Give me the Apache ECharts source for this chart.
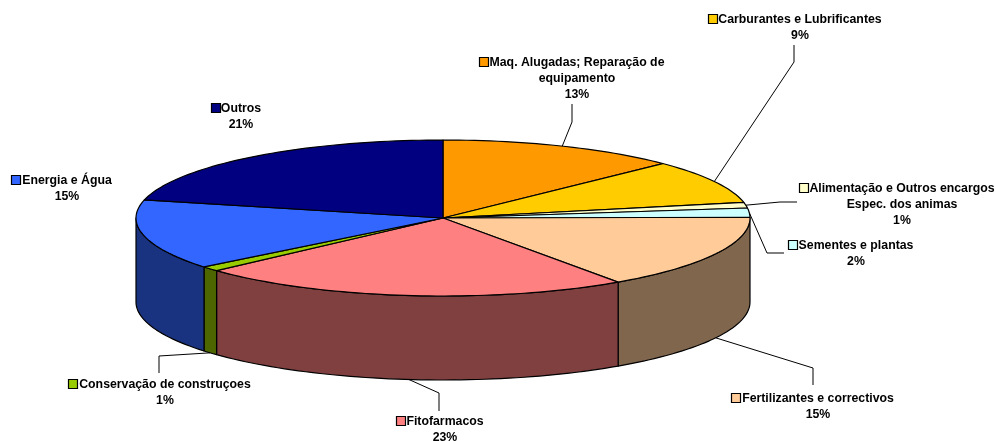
<!DOCTYPE html>
<html>
<head>
<meta charset="utf-8">
<title>Encargos</title>
<style>
    html, body { margin: 0; padding: 0; background: #fff; }
    #pie3d { width: 996px; height: 441px; }
</style>
<script src="https://cdn.jsdelivr.net/npm/echarts@6/dist/echarts.min.js"></script>
</head>
<body>
<div id="pie3d"></div>
<script>
// slices, clockwise from 12 o'clock
var names = [
    'Maq. Alugadas; Reparação de\nequipamento',
    'Carburantes e Lubrificantes',
    'Alimentação e Outros encargos\nEspec. dos animas',
    'Sementes e plantas',
    'Fertilizantes e correctivos',
    'Fitofarmacos',
    'Conservação de construçoes',
    'Energia e Água',
    'Outros'
];
var values = [12.7, 9.1, 1.15, 1.9, 15.49, 22.86, 1.0, 14.52, 21.28];
var colors = ['#FF9900', '#FFCC00', '#FFFFCC', '#CCFFFF', '#FFCC99', '#FF8080', '#99CC00', '#3366FF', '#000080'];
var wallColors = ['#804D00', '#806600', '#808066', '#668080', '#80664D', '#804040', '#4D6600', '#1A3380', '#000040'];

// label block: centre x, y of first line, x of the colour key
var labelPos = [
    [577, 63, 479],
    [800, 20, 708],
    [902, 189, 799],
    [856, 246, 788],
    [818, 399, 731],
    [445, 422, 396],
    [165, 385, 68],
    [67, 181, 11],
    [241, 109, 211]
];
// leader line points after the anchor on the pie, null = no leader
var leaderPos = [
    [[572, 122], [572, 104]],
    [[794, 62], [794, 45]],
    [[780, 202], [797, 202]],
    [[767, 253], [784, 253]],
    [[813, 368], [813, 385]],
    [[439, 393], [439, 411]],
    [[159, 356], [159, 373]],
    null,
    null
];

var cx = 443, cy = 218, rx = 307, ry = 78, depth = 84;
var lineH = 16;
var labelFont = 'bold 12.3px "Liberation Sans", Arial, sans-serif';

var total = values.reduce(function (a, b) { return a + b; }, 0);
var starts = [];
values.reduce(function (acc, v, i) {
    starts[i] = acc;
    return acc + v;
}, 0);

function angleOf(v) {
    return v / total * 360;
}
// point on the rim, angle in degrees clockwise from the top
function rim(deg, dy) {
    var r = deg * Math.PI / 180;
    return [cx + rx * Math.sin(r), cy - ry * Math.cos(r) + (dy || 0)];
}
function arc(a0, a1, dy) {
    var pts = [];
    var n = Math.max(2, Math.ceil((a1 - a0) / 1.5));
    for (var i = 0; i <= n; i++) {
        pts.push(rim(a0 + (a1 - a0) * i / n, dy));
    }
    return pts;
}

// outer wall, only the part of the rim facing the viewer
function renderWall(params, api) {
    var i = params.dataIndex;
    var a0 = Math.max(angleOf(starts[i]), 90);
    var a1 = Math.min(angleOf(starts[i] + api.value(0)), 270);
    if (a1 <= a0) {
        return null;
    }
    var points = arc(a0, a1, 0).concat(arc(a0, a1, depth).reverse());
    return {
        type: 'polygon',
        shape: { points: points },
        style: { fill: wallColors[i], stroke: '#000', lineWidth: 1.2, lineJoin: 'round' }
    };
}

// top face of the slice
function renderTop(params, api) {
    var i = params.dataIndex;
    var a0 = angleOf(starts[i]);
    var a1 = angleOf(starts[i] + api.value(0));
    return {
        type: 'polygon',
        shape: { points: [[cx, cy]].concat(arc(a0, a1, 0)) },
        style: { fill: colors[i], stroke: '#000', lineWidth: 1.2, lineJoin: 'round' }
    };
}

function renderLabel(params, api) {
    var i = params.dataIndex;
    var val = api.value(0);
    var pos = labelPos[i];
    var lines = names[i].split('\n');
    lines.push(Math.round(val / total * 100) + '%');
    var children = [];
    if (leaderPos[i]) {
        var mid = angleOf(starts[i] + val / 2);
        var anchor = rim(mid, mid > 90 && mid < 270 ? depth : 0);
        children.push({
            type: 'polyline',
            shape: { points: [anchor].concat(leaderPos[i]) },
            style: { fill: null, stroke: '#000', lineWidth: 1 }
        });
    }
    children.push({
        type: 'rect',
        shape: { x: pos[2] + 0.5, y: pos[1] - 5.5, width: 9, height: 9 },
        style: { fill: colors[i], stroke: '#000', lineWidth: 1.2 }
    });
    lines.forEach(function (txt, k) {
        children.push({
            type: 'text',
            style: {
                x: pos[0],
                y: pos[1] + k * lineH,
                text: txt,
                fill: '#000',
                font: labelFont,
                textAlign: 'center',
                textVerticalAlign: 'middle'
            }
        });
    });
    return { type: 'group', children: children };
}

var myChart = echarts.init(document.getElementById('pie3d'));
var option = {
    animation: false,
    backgroundColor: '#fff',
    series: [
        { type: 'custom', coordinateSystem: 'none', silent: true, z: 1, data: values, renderItem: renderWall },
        { type: 'custom', coordinateSystem: 'none', silent: true, z: 2, data: values, renderItem: renderTop },
        { type: 'custom', coordinateSystem: 'none', silent: true, z: 3, data: values, renderItem: renderLabel }
    ]
};
myChart.setOption(option);
</script>
</body>
</html>
